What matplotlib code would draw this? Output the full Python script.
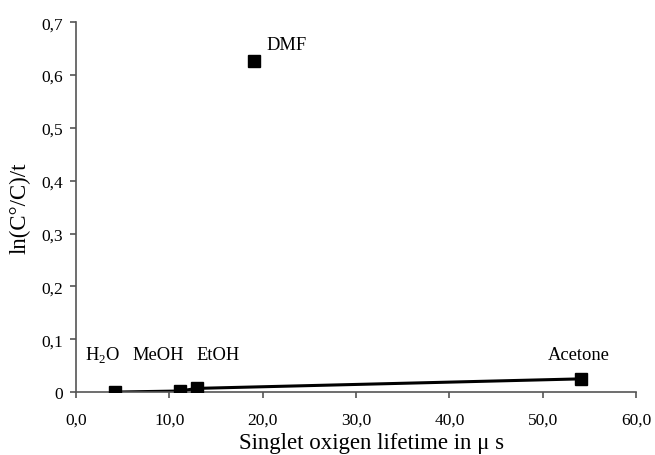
import matplotlib
matplotlib.use("Agg")
import matplotlib.pyplot as plt
from matplotlib.ticker import FuncFormatter

plt.rcParams["font.family"] = ["Liberation Serif", "DejaVu Serif"]
plt.rcParams["mathtext.fontset"] = "custom"
plt.rcParams["mathtext.rm"] = "Liberation Serif"

solvents = ["H$_\\mathrm{2}$O", "MeOH", "EtOH", "DMF", "Acetone"]
lifetime = [4.2, 11.1, 13.0, 19.1, 54.1]
rate = [0.000, 0.002, 0.007, 0.627, 0.025]
# solvents joined by the trend line
line_idx = [0, 1, 2, 4]
# label anchor positions (data coords, left/baseline)
label_x = [1.0, 6.0, 12.9, 20.4, 50.6]
label_y = [0.062, 0.062, 0.062, 0.650, 0.062]

fig = plt.figure(figsize=(6.55, 4.56), dpi=100)
ax = fig.add_axes([0.116, 0.138, 0.855, 0.811])

ax.plot([lifetime[i] for i in line_idx], [rate[i] for i in line_idx],
        "-", color="black", lw=2.2, zorder=2)
ax.plot(lifetime, rate, "s", color="black", ms=9, zorder=3)
for name, tx, ty in zip(solvents, label_x, label_y):
    ax.text(tx, ty, name, fontsize=13.3, ha="left", va="baseline")

ax.set_xlim(0, 60)
ax.set_ylim(0, 0.7)
ax.set_xticks([0, 10, 20, 30, 40, 50, 60])
ax.set_yticks([0, 0.1, 0.2, 0.3, 0.4, 0.5, 0.6, 0.7])
ax.xaxis.set_major_formatter(FuncFormatter(lambda v, p: f"{v:.1f}".replace(".", ",")))
ax.yaxis.set_major_formatter(FuncFormatter(lambda v, p: "0" if v == 0 else f"{v:.1f}".replace(".", ",")))
ax.tick_params(labelsize=12.5, direction="out", length=4, width=1.2, color="#555555")
ax.tick_params(axis="x", pad=10)
ax.tick_params(axis="y", pad=5)
ax.spines["top"].set_visible(False)
ax.spines["right"].set_visible(False)
for s in ("left", "bottom"):
    ax.spines[s].set_color("#555555")
    ax.spines[s].set_linewidth(1.2)
ax.set_xlabel("Singlet oxigen lifetime in \u03bc s", fontsize=16.5, labelpad=3, x=0.527)
ax.set_ylabel("ln(C\u00b0/C)/t", fontsize=16.5, labelpad=8)

fig.savefig("out.png", dpi=100)
